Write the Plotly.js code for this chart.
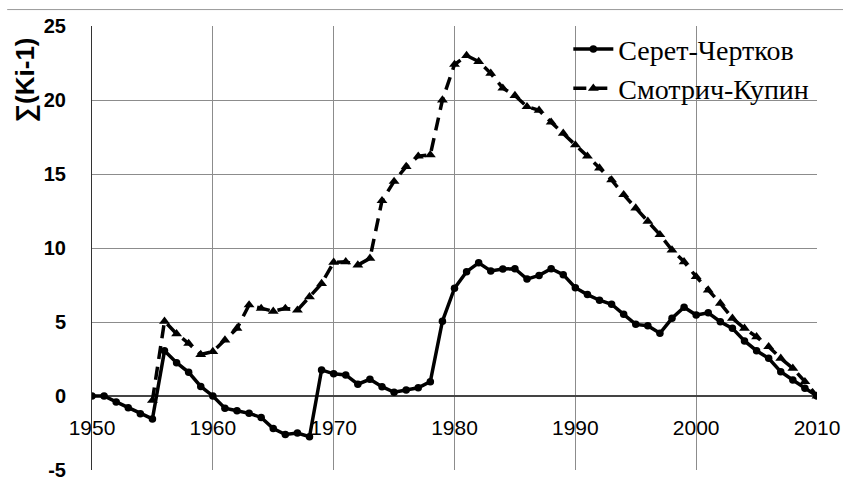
<!DOCTYPE html>
<html>
<head>
<meta charset="utf-8">
<script src="https://cdn.plot.ly/plotly-3.0.1.min.js"></script>
<style>
html,body{margin:0;padding:0;background:#fff;}
#chart{width:843px;height:488px;}
</style>
</head>
<body>
<div id="chart"></div>
<script>
// Years
const yearsSeret = [1950,1951,1952,1953,1954,1955,1956,1957,1958,1959,1960,1961,1962,1963,1964,1965,1966,1967,1968,1969,1970,1971,1972,1973,1974,1975,1976,1977,1978,1979,1980,1981,1982,1983,1984,1985,1986,1987,1988,1989,1990,1991,1992,1993,1994,1995,1996,1997,1998,1999,2000,2001,2002,2003,2004,2005,2006,2007,2008,2009,2010];
// Серет-Чертков
const valuesSeret = [0,0,-0.4,-0.8,-1.2,-1.55,3.05,2.25,1.6,0.65,0,-0.82,-1.0,-1.17,-1.45,-2.2,-2.6,-2.5,-2.75,1.76,1.5,1.42,0.8,1.13,0.63,0.25,0.4,0.56,0.97,5.05,7.28,8.4,9.0,8.45,8.58,8.6,7.9,8.15,8.6,8.2,7.32,6.85,6.47,6.2,5.52,4.84,4.75,4.24,5.25,6.0,5.47,5.62,5.02,4.57,3.72,3.06,2.55,1.64,1.08,0.52,0];

const yearsSmotrych = [1955,1956,1957,1958,1959,1960,1961,1962,1963,1964,1965,1966,1967,1968,1969,1970,1971,1972,1973,1974,1975,1976,1977,1978,1979,1980,1981,1982,1983,1984,1985,1986,1987,1988,1989,1990,1991,1992,1993,1994,1995,1996,1997,1998,1999,2000,2001,2002,2003,2004,2005,2006,2007,2008,2009,2010];
// Смотрич-Купин
const valuesSmotrych = [-0.3,5.05,4.2,3.55,2.8,3.0,3.78,4.57,6.15,5.92,5.72,5.92,5.8,6.7,7.6,9.03,9.07,8.85,9.3,13.2,14.5,15.5,16.2,16.3,20.0,22.4,23.0,22.6,21.8,20.8,20.3,19.55,19.3,18.5,17.75,16.96,16.2,15.4,14.6,13.6,12.7,11.8,10.9,9.86,9.07,8.06,7.16,6.26,5.25,4.57,4.0,3.33,2.55,1.87,0.97,0];

const seriesNames = ['Серет-Чертков','Смотрич-Купин'];
const yTitle = '∑(Ki-1)';
const xTicks = [1950,1960,1970,1980,1990,2000,2010];
const yTicks = [-5,0,5,10,15,20,25];

const traces = [
  {
    x: yearsSeret, y: valuesSeret, name: seriesNames[0],
    type: 'scatter', mode: 'lines+markers',
    line: {color: '#000', width: 3.5},
    marker: {symbol: 'circle', size: 7.5, color: '#000'}
  },
  {
    x: yearsSmotrych, y: valuesSmotrych, name: seriesNames[1],
    type: 'scatter', mode: 'lines+markers',
    line: {color: '#000', width: 3.5, dash: '13px,8px'},
    marker: {symbol: 'triangle-up', size: 9.5, color: '#000'}
  }
];

const layout = {
  width: 843, height: 488,
  margin: {l: 92, r: 26, t: 26, b: 18, pad: 0},
  paper_bgcolor: '#fff', plot_bgcolor: '#fff',
  showlegend: true,
  legend: {
    x: 0.657, y: 1.004, xanchor: 'left', yanchor: 'top',
    bgcolor: 'rgba(0,0,0,0)', borderwidth: 0,
    font: {family: 'Liberation Serif, Times New Roman, serif', size: 28, color: '#000'},
    tracegroupgap: 0, itemwidth: 40
  },
  xaxis: {
    range: [1950, 2010], tickvals: xTicks, ticktext: xTicks.map(String),
    anchor: 'free', position: 5/30,
    showgrid: true, gridcolor: '#8c8c8c', gridwidth: 1,
    zeroline: false, showline: false, ticks: '',
    ticklabelstandoff: 17,
    tickfont: {family: 'Liberation Sans, Arial, sans-serif', size: 21, color: '#000'},
    fixedrange: true
  },
  yaxis: {
    range: [-5, 25], tickvals: yTicks, ticktext: yTicks.map(String),
    showgrid: true, gridcolor: '#8c8c8c', gridwidth: 1,
    zeroline: true, zerolinecolor: '#444', zerolinewidth: 1.5,
    showline: true, linecolor: '#333', linewidth: 1,
    ticks: '', ticklabelstandoff: 21,
    tickfont: {family: 'Liberation Sans, Arial, sans-serif', size: 20, color: '#000', weight: 'bold'},
    automargin: false,
    fixedrange: true
  },
  annotations: [
    {text: yTitle, xref: 'paper', yref: 'paper', x: -0.092, y: 0.878,
     xanchor: 'center', yanchor: 'middle', textangle: -90, showarrow: false,
     font: {family: 'Liberation Sans, Arial, sans-serif', size: 26, color: '#000', weight: 'bold'}}
  ],
  shapes: [
    {type: 'line', xref: 'paper', yref: 'paper', x0: -0.117, x1: 1.04, y0: 1.037, y1: 1.037,
     line: {color: '#999', width: 1}}
  ]
};

Plotly.newPlot('chart', traces, layout, {displayModeBar: false, staticPlot: true});
</script>
</body>
</html>
